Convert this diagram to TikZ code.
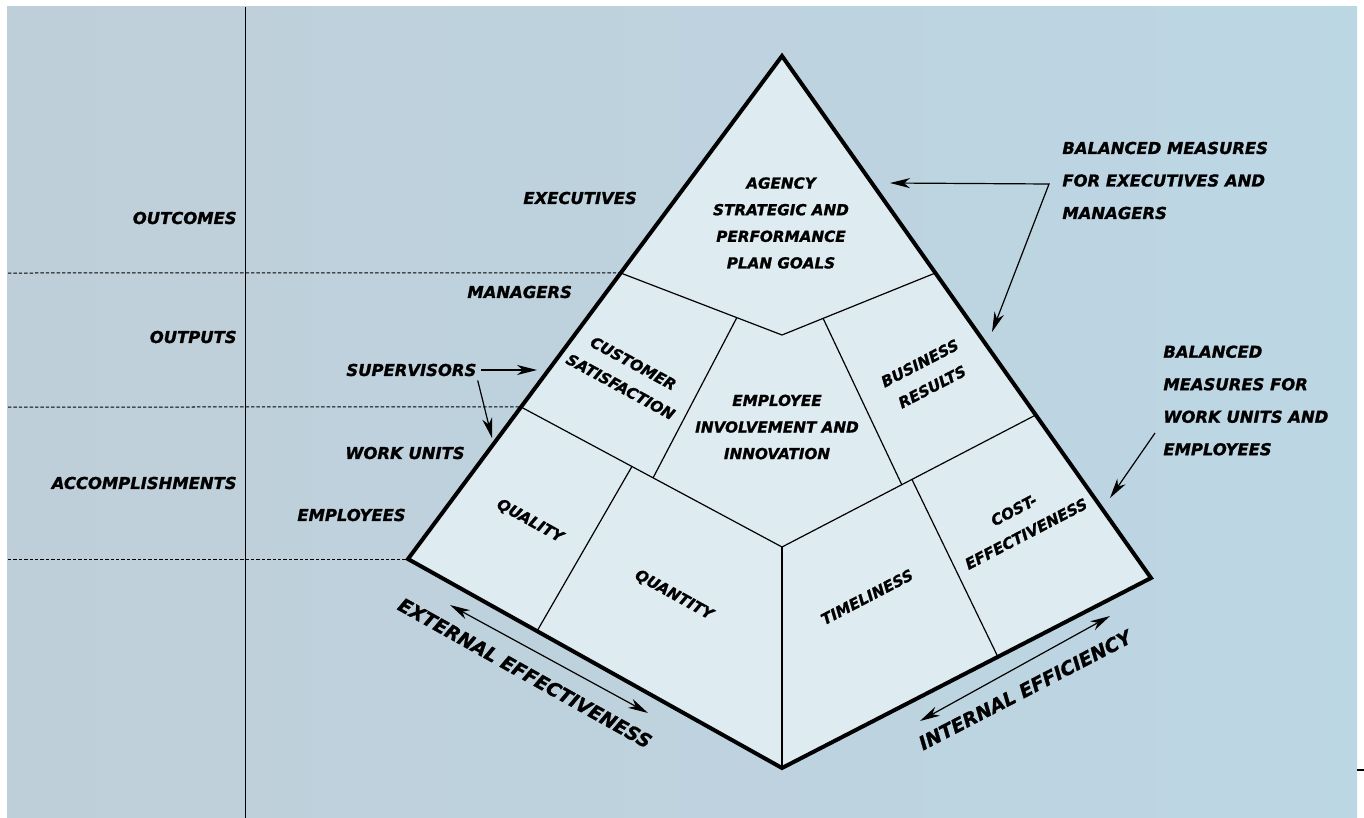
\documentclass[tikz,border=0pt]{standalone}
\usepackage{fontspec}
\setmainfont{DejaVu Sans}[BoldItalicFeatures={FakeBold=1.3}]
\usetikzlibrary{calc,arrows.meta}
\definecolor{bgleft}{HTML}{BFCFD9}
\definecolor{bgright}{HTML}{BCD8E6}
\definecolor{pyrfill}{HTML}{DEEBF1}

\begin{document}
\begin{tikzpicture}[x=0.5pt, y=-0.5pt,
  lbl/.style = {font=\fontsize{8.2}{10}\selectfont\bfseries\itshape, inner sep=0pt},
  side/.style = {font=\fontsize{8.2}{16.25}\selectfont\bfseries\itshape,
    align=left, anchor=west, inner sep=0pt},
  inner/.style = {font=\fontsize{7.6}{13.3}\selectfont\bfseries\itshape,
    align=center, inner sep=0pt},
  axis/.style = {font=\fontsize{9.5}{11}\selectfont\bfseries\itshape, inner sep=0pt},
  edge/.style = {line width=2pt, line join=miter},
  part/.style = {line width=0.6pt},
  guide/.style = {line width=0.5pt, dash pattern=on 1.7pt off 1pt},
  tip/.tip = {Stealth[length=10pt, width=5pt, inset=3pt]},
  arr/.style = {line width=0.6pt, -tip},
  dbl/.style = {line width=0.6pt, tip-tip}
  ]
  \useasboundingbox (0,0) rectangle (1364,818);
  \fill[left color=bgleft, middle color=bgright, right color=bgright!85!bgleft]
    (7,7) rectangle (1357,818);

  % pyramid corners and inner joints
  \coordinate (apex) at (782,56);
  \coordinate (cl)   at (408,559);
  \coordinate (bot)  at (782,768);
  \coordinate (cr)   at (1151,578);
  \coordinate (c1)   at (782,335);
  \coordinate (c2)   at (782,547);
  \coordinate (l1) at ($(apex)!0.4314!(cl)$);
  \coordinate (l2) at ($(apex)!0.6978!(cl)$);
  \coordinate (r1) at ($(apex)!0.4157!(cr)$);
  \coordinate (r2) at ($(apex)!0.6877!(cr)$);
  \coordinate (cs1) at ($(l1)!0.72!(c1)$);
  \coordinate (cs2) at ($(l2)!0.506!(c2)$);
  \coordinate (qa1) at ($(l2)!0.425!(c2)$);
  \coordinate (qa2) at ($(cl)!0.345!(bot)$);
  \coordinate (br1) at ($(c1)!0.268!(r1)$);
  \coordinate (br2) at ($(c2)!0.472!(r2)$);
  \coordinate (ce1) at ($(c2)!0.512!(r2)$);
  \coordinate (ce2) at ($(bot)!0.585!(cr)$);

  \fill[pyrfill] (apex) -- (cr) -- (bot) -- (cl) -- cycle;
  \draw[part] (l1) -- (c1) -- (r1);
  \draw[part] (l2) -- (c2) -- (r2);
  \draw[part] (c2) -- (bot);
  \draw[part] (cs1) -- (cs2);
  \draw[part] (qa1) -- (qa2);
  \draw[part] (br1) -- (br2);
  \draw[part] (ce1) -- (ce2);
  \draw[edge] (apex) -- (cr) -- (bot) -- (cl) -- cycle;

  % level guides
  \coordinate (g1) at (8,273);
  \coordinate (g2) at (8,407);
  \coordinate (g3) at (8,559);
  \draw[guide] (g1) -- (l1);
  \draw[guide] (g2) -- (l2);
  \draw[guide] (g3) -- (cl);
  \coordinate (vtop) at (245,7);
  \coordinate (vbot) at (245,818);
  \draw[line width=0.5pt] (vtop) -- (vbot);
  \coordinate (tk1) at (1357,770);
  \coordinate (tk2) at (1364,770);
  \draw[part] (tk1) -- (tk2);

  \node[lbl, anchor=east] (outcomes) at (237,218) {OUTCOMES};
  \node[lbl, anchor=east] (outputs)  at (237,337) {OUTPUTS};
  \node[lbl, anchor=east] (accompl)  at (237,483) {ACCOMPLISHMENTS};
  \node[lbl, anchor=west] (execs)    at (523,198) {EXECUTIVES};
  \node[lbl, anchor=west] (managers) at (467,292) {MANAGERS};
  \node[lbl, anchor=west] (superv)   at (346,370) {SUPERVISORS};
  \node[lbl, anchor=west] (workunits) at (345,453) {WORK UNITS};
  \node[lbl, anchor=west] (employees) at (297,515) {EMPLOYEES};

  \coordinate (sv1) at (537,370);
  \coordinate (sv2) at (492,438);
  \draw[arr, shorten <=2pt] (superv.east) -- (sv1);
  \draw[arr, shorten <=2pt] (superv.south east) -- (sv2);

  \node[inner] (agency) at (781,223) {AGENCY\\STRATEGIC AND\\PERFORMANCE\\PLAN GOALS};
  \node[inner] (involve) at (777,427) {EMPLOYEE\\INVOLVEMENT AND\\INNOVATION};
  \node[inner, rotate=-28.5] (customer) at (627,375) {CUSTOMER\\SATISFACTION};
  \node[inner, rotate=-29] (quality) at (530,521) {QUALITY};
  \node[inner, rotate=-29] (quantity) at (674,595) {QUANTITY};
  \node[inner, rotate=27.5] (business) at (926,375) {BUSINESS\\RESULTS};
  \node[inner, rotate=27.5] (timeliness) at (867,597) {TIMELINESS};
  \node[inner, rotate=27.5] (costeff) at (1020,522) {COST-\\EFFECTIVENESS};

  \node[side] (bmexec) at (1062,180.5) {BALANCED MEASURES\\FOR EXECUTIVES AND\\MANAGERS};
  \coordinate (bmc) at (1049,184);
  \coordinate (agtip) at (890,183);
  \coordinate (bmtip) at (992,332);
  \draw[dbl] (agtip) -- (bmc) -- (bmtip);

  \node[side] (bmwork) at (1163,400.5) {BALANCED\\MEASURES FOR\\WORK UNITS AND\\EMPLOYEES};
  \coordinate (wu1) at (1155,433);
  \coordinate (wu2) at (1110,498);
  \draw[arr] (wu1) -- (wu2);

  \node[axis, rotate=-29.2] (external) at (525,673) {EXTERNAL EFFECTIVENESS};
  \coordinate (ex1) at (450,605);
  \coordinate (ex2) at (648,713);
  \draw[dbl] (ex1) -- (ex2);
  \node[axis, rotate=27.4] (internal) at (1025,690) {INTERNAL EFFICIENCY};
  \coordinate (in1) at (920,721);
  \coordinate (in2) at (1110,616);
  \draw[dbl] (in1) -- (in2);
\end{tikzpicture}
\end{document}
